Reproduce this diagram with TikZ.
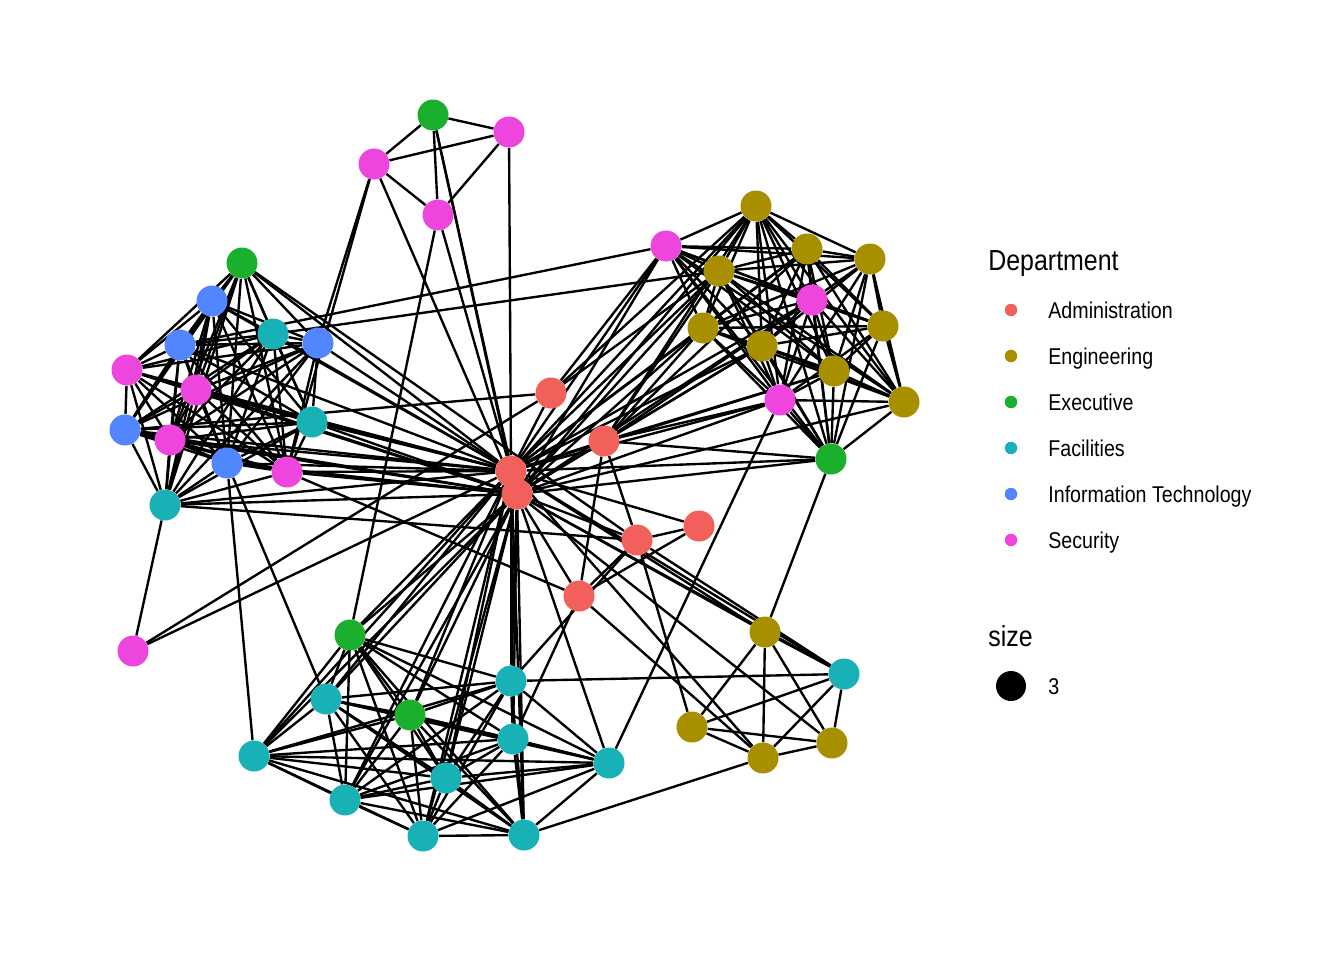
\documentclass[tikz,border=0pt]{standalone}
\usepackage{fontspec}
\setmainfont{Liberation Sans}[FakeStretch=0.86]
\usetikzlibrary{backgrounds}
\definecolor{admincol}{HTML}{F2605C}
\definecolor{engcol}{HTML}{A88F00}
\definecolor{execcol}{HTML}{1AB02E}
\definecolor{faccol}{HTML}{18B1B5}
\definecolor{itcol}{HTML}{5286FF}
\definecolor{seccol}{HTML}{EE46DC}
% every pair of a group
\newcommand{\drawclique}[1]{%
 \foreach \u [count=\i] in {#1} {
  \foreach \v [count=\j] in {#1} {
   \ifnum\j>\i \draw[link] (\u) -- (\v); \fi
  }
 }}

\begin{document}
\begin{tikzpicture}[
 x=0.02cm, y=-0.02cm,
 vertex/.style={circle, inner sep=0pt, minimum size=0.62cm},
 admin/.style={vertex, fill=admincol},
 eng/.style={vertex, fill=engcol},
 exec/.style={vertex, fill=execcol},
 fac/.style={vertex, fill=faccol},
 itdept/.style={vertex, fill=itcol},
 sec/.style={vertex, fill=seccol},
 link/.style={line width=1.35pt, black},
 keydot/.style={circle, inner sep=0pt, minimum size=0.25cm},
 keytext/.style={anchor=west, inner sep=0pt, text height=9.3pt, text depth=0pt,
  font=\fontsize{13}{15}\selectfont},
 keytitle/.style={anchor=west, inner sep=0pt, text height=11.9pt, text depth=0pt,
  font=\fontsize{16.5}{19}\selectfont}
]
\useasboundingbox (0,0) rectangle (1344,960);

% Administration
\node[admin] (A1) at (511,471) {};
\node[admin] (A2) at (517,494) {};
\node[admin] (A3) at (551,393) {};
\node[admin] (A4) at (604,441) {};
\node[admin] (A5) at (699,526) {};
\node[admin] (A6) at (637,540) {};
\node[admin] (A7) at (579,596) {};

% Engineering
\node[eng] (E1) at (756,206) {};
\node[eng] (E2) at (807,249) {};
\node[eng] (E3) at (870,259) {};
\node[eng] (E4) at (719,271) {};
\node[eng] (E5) at (703,328) {};
\node[eng] (E6) at (762,346) {};
\node[eng] (E7) at (883,326) {};
\node[eng] (E8) at (834,371) {};
\node[eng] (E9) at (904,402) {};
\node[eng] (E10) at (765,632) {};
\node[eng] (E11) at (692,727) {};
\node[eng] (E12) at (763,758) {};
\node[eng] (E13) at (832,743) {};

% Executive
\node[exec] (X1) at (433,115) {};
\node[exec] (X2) at (242,263) {};
\node[exec] (X3) at (831,459) {};
\node[exec] (X4) at (350,635) {};
\node[exec] (X5) at (410,715) {};

% Facilities
\node[fac] (F1) at (273,334) {};
\node[fac] (F2) at (312,422) {};
\node[fac] (F3) at (165,505) {};
\node[fac] (F4) at (511,681) {};
\node[fac] (F5) at (326,699) {};
\node[fac] (F6) at (513,739) {};
\node[fac] (F7) at (254,756) {};
\node[fac] (F8) at (446,778) {};
\node[fac] (F9) at (609,763) {};
\node[fac] (F10) at (345,800) {};
\node[fac] (F11) at (423,836) {};
\node[fac] (F12) at (524,835) {};
\node[fac] (F13) at (844,674) {};

% Information Technology
\node[itdept] (I1) at (212,301) {};
\node[itdept] (I2) at (180,345) {};
\node[itdept] (I3) at (318,343) {};
\node[itdept] (I4) at (125,430) {};
\node[itdept] (I5) at (227,463) {};

% Security
\node[sec] (S1) at (509,132) {};
\node[sec] (S2) at (374,164) {};
\node[sec] (S3) at (438,215) {};
\node[sec] (S4) at (666,246) {};
\node[sec] (S5) at (812,300) {};
\node[sec] (S6) at (780,400) {};
\node[sec] (S7) at (127,370) {};
\node[sec] (S8) at (196,390) {};
\node[sec] (S9) at (170,440) {};
\node[sec] (S10) at (287,472) {};
\node[sec] (S11) at (133,651) {};

\begin{pgfonlayer}{background}
% dense clusters
\drawclique{X2,I1,I2,I3,F1,F2,S7,S8,S9,I4,I5,S10,F3}
\drawclique{E1,E2,E3,E4,E5,E6,E7,E8,E9,S4,S5,S6,X3}
\drawclique{X4,X5,F4,F5,F6,F7,F8,F9,F10,F11,F12}
\drawclique{E10,E11,E12,E13,F13}

% top cluster
\foreach \u/\v in {X1/S1, X1/S2, X1/S3, S2/S1, S2/S3, S1/S3, S1/A1, X1/A1, X1/A2,
 S2/A2, S3/A1, S3/X4, S2/I3, S2/S10}
 \draw[link] (\u) -- (\v);

% hub
\foreach \n in {X2,I1,I2,I3,F1,F2,S7,S8,S9,I4,I5,S10,F3,E1,E2,E4,E5,E6,E8,S4,S5,S6,X3,
 X4,X5,F4,F5,F6,F7,F8,F10,F11,F12,A3,A4,E10,E12,F13}
 \draw[link] (A1) -- (\n);
\foreach \n in {S7,S8,S9,I4,I5,S10,F3,F2,E1,E4,E5,E6,E9,S4,S5,S6,X3,A4,X4,X5,F4,F5,F6,F7,F8,F9,
 F10,F11,F12,E10,F13,E13,A6,A7}
 \draw[link] (A2) -- (\n);

% other links
\foreach \u/\v in {F3/A6, F3/S11, S11/A1, S11/A3, I5/F7, I5/F5, S10/A7, I2/S4, F1/E4, I4/A3,
 X2/A6, A4/E1, A4/E2, A4/E4, A4/E5, A4/E6, A4/S5, A4/S6, A4/E8, A4/X3, A4/A7, A4/A6,
 A3/E4, A3/S4, A5/A6, A6/A7, A5/A7, A5/A1,
 X3/E10, S6/F9, A6/F13, A7/E12, A6/E11, F4/F13, F12/E12, F6/A7, F4/A6, A3/E1}
 \draw[link] (\u) -- (\v);
\end{pgfonlayer}

% legend
\node[keytitle] (deptkey) at (988,260) {Department};
\foreach \c/\t [count=\k] in {admincol/Administration, engcol/Engineering, execcol/Executive,
 faccol/Facilities, itcol/Information Technology, seccol/Security} {
 \node[keydot, fill=\c] (dot\k) at (1011,264+46*\k) {};
 \node[keytext] (key\k) at (1048,264+46*\k) {\t};
}
\node[keytitle] (sizekey) at (988,636) {size};
\node[circle, fill=black, inner sep=0pt, minimum size=0.6cm] (sizedot) at (1011,686) {};
\node[keytext] (sizeval) at (1048,686) {3};
\end{tikzpicture}
\end{document}
